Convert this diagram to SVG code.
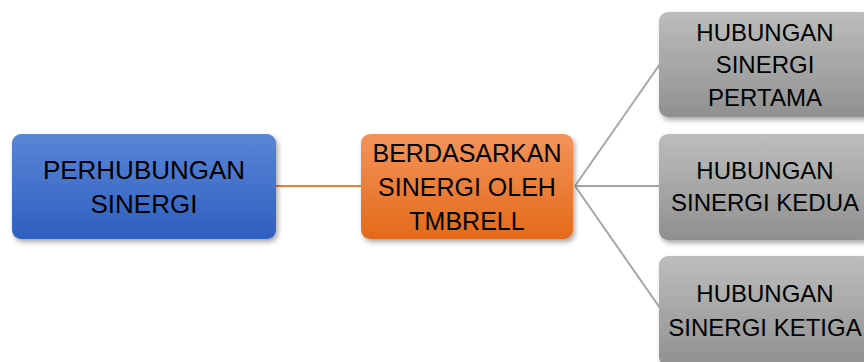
<svg xmlns="http://www.w3.org/2000/svg" width="864" height="362" viewBox="0 0 864 362">
<style>
text{font-family:"Liberation Sans",Arial,sans-serif;font-size:24px;fill:#000;text-anchor:middle}
.big{font-size:26px}
.mid{font-size:25px}
.conn-o{stroke:#ed7d31;stroke-width:2;fill:none}
.conn-g{stroke:#a6a6a6;stroke-width:2;fill:none}
</style>
<defs>
<linearGradient id="gb" x1="0" y1="0" x2="0" y2="1"><stop offset="0" stop-color="#5a85d6"/><stop offset="1" stop-color="#2e5fc0"/></linearGradient>
<linearGradient id="go" x1="0" y1="0" x2="0" y2="1"><stop offset="0" stop-color="#f4935a"/><stop offset="1" stop-color="#e36a1a"/></linearGradient>
<linearGradient id="gg" x1="0" y1="0" x2="0" y2="1"><stop offset="0" stop-color="#bdbdbd"/><stop offset="1" stop-color="#909090"/></linearGradient>
<filter id="sh" x="-10%" y="-10%" width="125%" height="130%"><feDropShadow dx="2" dy="3" stdDeviation="2.5" flood-color="#000" flood-opacity="0.35"/></filter>
</defs>
<g id="connectors">
<line class="conn-o" x1="275" y1="186" x2="362" y2="186"/>
<line class="conn-g" x1="575" y1="186" x2="660" y2="64"/>
<line class="conn-g" x1="575" y1="186" x2="660" y2="186"/>
<line class="conn-g" x1="575" y1="186" x2="660" y2="308"/>
</g>
<g id="node-perhubungan">
<rect x="12" y="134" width="264" height="105" rx="9" fill="url(#gb)" filter="url(#sh)"/>
<text class="big" x="144" y="179">PERHUBUNGAN</text>
<text class="big" x="144" y="213">SINERGI</text>
</g>
<g id="node-berdasarkan">
<rect x="361" y="134" width="212" height="105" rx="9" fill="url(#go)" filter="url(#sh)"/>
<text class="mid" x="467" y="162">BERDASARKAN</text>
<text class="mid" x="467" y="196">SINERGI OLEH</text>
<text class="mid" x="467" y="230">TMBRELL</text>
</g>
<g id="node-pertama">
<rect x="659" y="12" width="212" height="105" rx="9" fill="url(#gg)" filter="url(#sh)"/>
<text x="765" y="41">HUBUNGAN</text>
<text x="765" y="73">SINERGI</text>
<text x="765" y="106">PERTAMA</text>
</g>
<g id="node-kedua">
<rect x="659" y="134" width="212" height="106" rx="9" fill="url(#gg)" filter="url(#sh)"/>
<text x="765" y="179">HUBUNGAN</text>
<text x="765" y="211">SINERGI KEDUA</text>
</g>
<g id="node-ketiga">
<rect x="659" y="256" width="212" height="110" rx="9" fill="url(#gg)" filter="url(#sh)"/>
<text x="765" y="302">HUBUNGAN</text>
<text x="765" y="336">SINERGI KETIGA</text>
</g>
</svg>
